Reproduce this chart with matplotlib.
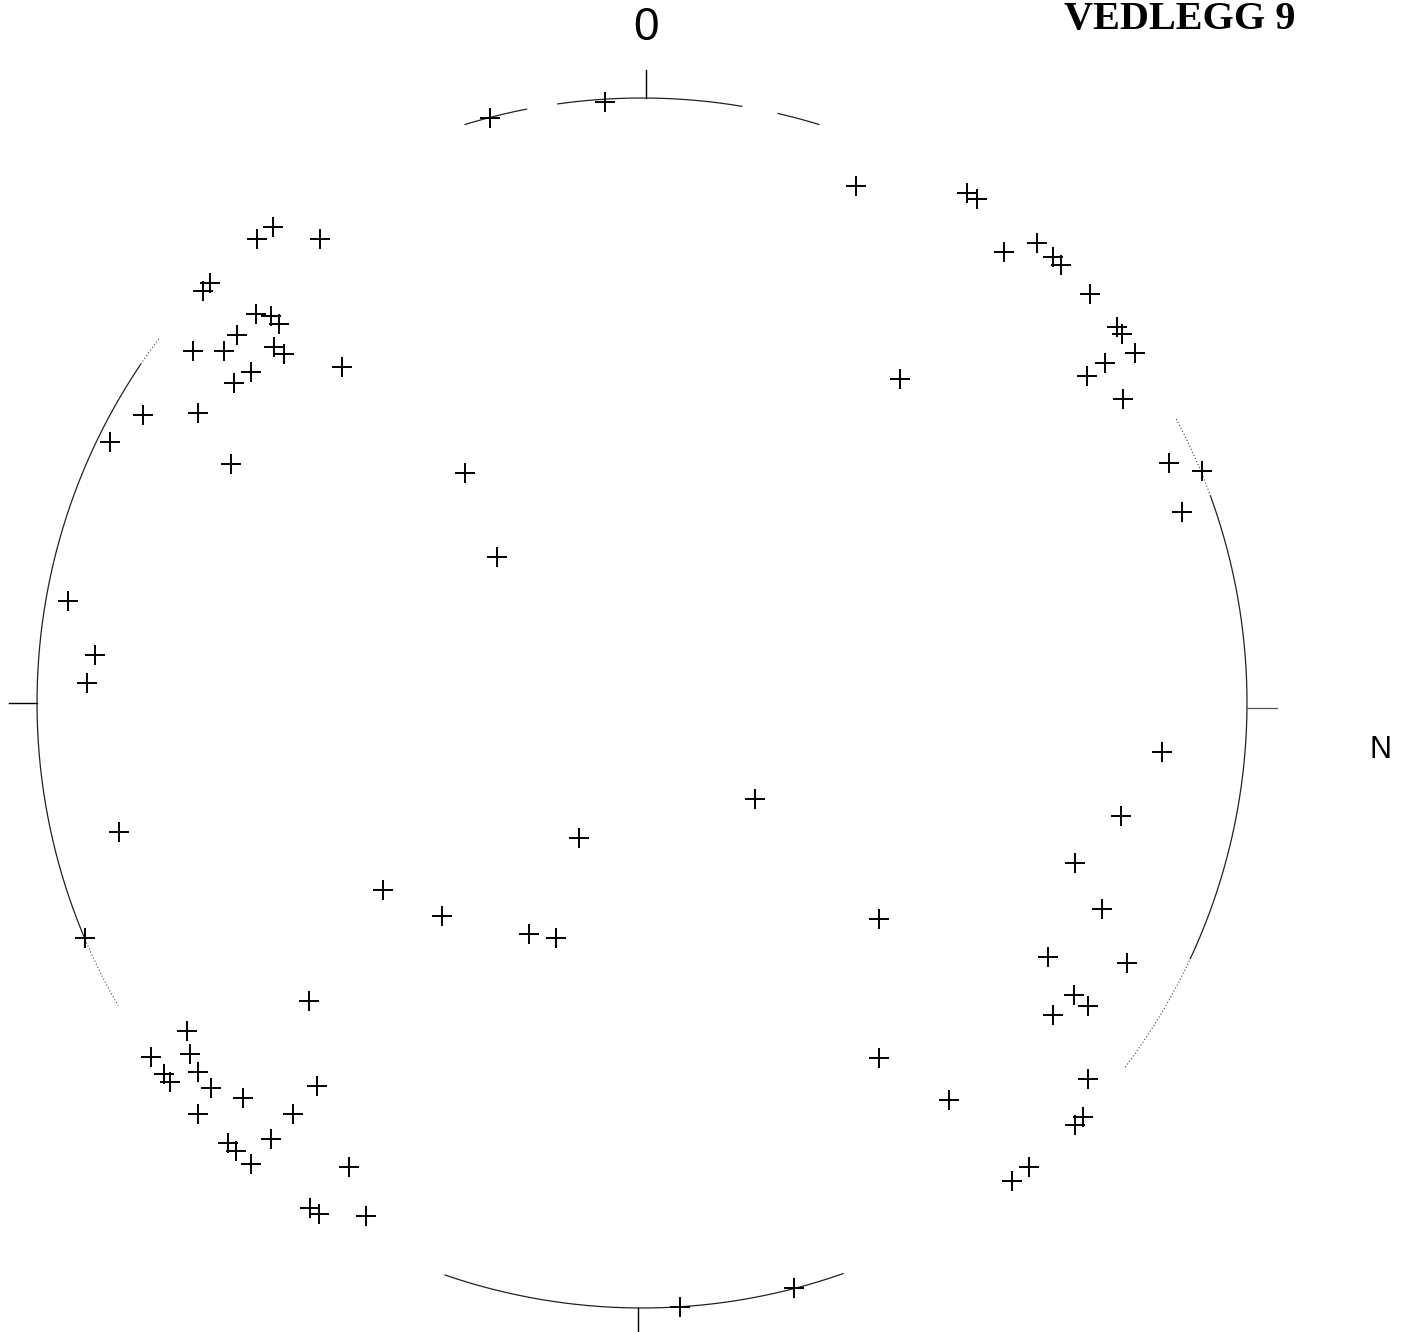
import numpy as np
import matplotlib
matplotlib.use("Agg")
import matplotlib.pyplot as plt

# Equal-area net, poles (unit-circle coordinates)
pole_x = [-0.062, -0.251, 0.354, 0.537, 0.554, 0.598, 0.653, 0.679, 0.693, 0.740,
          0.785, 0.793, 0.815, 0.765, 0.736, 0.795, 0.426, 0.871, 0.926, 0.893,
          -0.636, -0.610, -0.532, -0.726, -0.714, -0.638, -0.613, -0.600, -0.669, -0.742,
          -0.691, -0.608, -0.592, -0.496, -0.646, -0.674, -0.825, -0.734, -0.879, -0.679,
          -0.293, -0.240, -0.949, -0.904, -0.917, -0.864, -0.921,
          0.187, -0.104, -0.428, -0.331, -0.187, -0.142,
          0.860, 0.792, 0.716, 0.760, 0.392, 0.671, 0.802, 0.714, 0.737, 0.679,
          0.392, 0.737, 0.507, 0.729, 0.716, 0.640, 0.612, 0.251, 0.063,
          -0.550, -0.752, -0.812, -0.747, -0.790, -0.734, -0.780, -0.712, -0.660, -0.537,
          -0.577, -0.734, -0.613, -0.684, -0.671, -0.646, -0.484, -0.549, -0.534, -0.456]
pole_y = [0.994, 0.967, 0.855, 0.843, 0.833, 0.745, 0.760, 0.737, 0.724, 0.676,
          0.621, 0.610, 0.579, 0.562, 0.540, 0.502, 0.536, 0.397, 0.383, 0.316,
          0.767, 0.787, 0.767, 0.681, 0.694, 0.643, 0.640, 0.626, 0.608, 0.582,
          0.582, 0.588, 0.577, 0.555, 0.547, 0.529, 0.476, 0.479, 0.431, 0.395,
          0.380, 0.241, 0.169, 0.079, 0.033, -0.213, -0.388,
          -0.159, -0.223, -0.309, -0.352, -0.382, -0.388,
          -0.081, -0.187, -0.264, -0.340, -0.357, -0.420, -0.430, -0.483, -0.501, -0.516,
          -0.587, -0.621, -0.656, -0.684, -0.698, -0.767, -0.790, -0.967, -0.998,
          -0.493, -0.542, -0.585, -0.580, -0.613, -0.610, -0.626, -0.636, -0.653, -0.633,
          -0.679, -0.679, -0.721, -0.727, -0.740, -0.762, -0.767, -0.835, -0.845, -0.848]

title = "VEDLEGG 9"
top_label = "0"
side_label = "N"

fig = plt.figure(figsize=(14.02, 13.32), dpi=100)
ax = fig.add_axes([0, 0, 1, 1])
ax.set_xlim(-1.0612, 1.2562)
ax.set_ylim(-1.0397, 1.1620)
ax.set_aspect("equal")
ax.axis("off")

# primitive circle, only partly visible in the scan
solid_arcs = [(73, 77), (80.5, 98), (101, 107), (146, 203), (251, 289.4), (-25, 20)]
dotted_arcs = [(203, 210), (-37, -25), (20, 28), (143, 146)]
for a0, a1 in solid_arcs:
    t = np.radians(np.linspace(a0, a1, 200))
    ax.plot(np.cos(t), np.sin(t), color="#222222", lw=0.9)
for a0, a1 in dotted_arcs:
    t = np.radians(np.linspace(a0, a1, 100))
    ax.plot(np.cos(t), np.sin(t), color="#444444", lw=0.8, ls=(0, (1, 2)))

# cardinal ticks
ax.plot([0.007, 0.007], [1.0, 1.046], color="black", lw=1.0)
ax.plot([-0.007, -0.007], [-1.0, -1.05], color="black", lw=1.0)
ax.plot([-1.0, -1.046], [0.0, 0.0], color="black", lw=1.0)
ax.plot([1.0, 1.05], [-0.008, -0.008], color="#555555", lw=0.9)

ax.plot(pole_x, pole_y, ls="none", marker="+", ms=15, mew=1.4, color="black")

ax.text(0.007, 1.116, top_label, ha="center", va="center", fontsize=33,
        family="Liberation Sans")
ax.text(1.220, -0.078, side_label, ha="center", va="center", fontsize=22,
        family="Liberation Sans")
fig.text(1064 / 1402, 1 - 29 / 1332, title, ha="left", va="baseline", fontsize=29,
         family="Liberation Serif", fontweight="bold")

fig.savefig("out.png", dpi=100)
